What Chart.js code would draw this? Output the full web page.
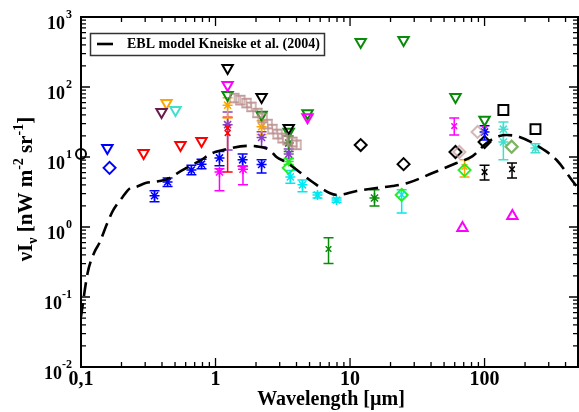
<!DOCTYPE html>
<html><head><meta charset="utf-8">
<script src="https://cdn.jsdelivr.net/npm/chart.js@4/dist/chart.umd.min.js"></script>
<style>html,body{margin:0;padding:0;background:#fff}#wrap{width:579px;height:412px;position:relative}</style>
</head><body><div id="wrap"><canvas id="c" width="579" height="412"></canvas></div>
<script>
// ---- Data (wavelength [um], nuI_nu [nW m^-2 sr^-1], err low, err high) ----
const modelX = [0.1,0.112,0.126,0.137,0.157,0.174,0.204,0.233,0.254,0.302,0.384,0.455,0.522,0.609,0.76,0.95,1.21,1.70,2.02,2.52,2.84,3.4,4.21,5.26,7.04,8.07,11.2,15.7,20.7,26.8,41.1,61.9,81.5,103.5,129,146,182,256,343,451,495];
const modelY = [0.052,0.22,0.44,0.59,1.14,1.75,2.68,3.61,3.73,4.25,4.54,5.0,5.9,6.97,8.77,11.4,13.0,14.4,14.2,12.6,10.0,8.3,6.1,4.40,3.06,2.87,3.27,3.61,3.85,4.25,5.91,8.2,10.3,15.8,19.9,20.6,19.3,13.9,9.06,4.54,3.6];

const blackCircle = [[0.1,11]];
const blueTri = [[0.157,13.4]];
const blueDiamond = [[0.163,7.0]];
const redTri = [[0.292,11.4],[0.549,14.8],[0.787,16.9]];
const maroonTri = [[0.397,44]];
const orangeTri = [[0.432,59]];
const turqTri = [[0.504,47]];
const blackTri = [[1.23,187],[2.2,72],[3.5,26]];
const magentaTri = [[1.23,107],[4.83,37]];
const greenTri = [[1.23,77],[2.2,40],[3.5,23],[4.83,42],[12,440],[25,469],[60.8,72],[100,34]];
const blueStar = [[0.352,2.8,2.3,3.3],[0.44,4.4,3.8,5.0],[0.662,6.5,5.6,7.6],[0.787,7.9,6.8,9.3],[1.07,9.7,7.5,12],[1.59,9.1,7.4,11],[2.2,7.8,5.9,9.1],[100,22.8,17.5,28]];
const magentaStar = [[1.07,6.1,3.3,6.8],[1.6,6.7,4.0,7.4]];
const redCross = [[1.23,22,6.1,37],[1.23,26,null,null]];
const purpleStar = [[1.23,29,12.6,44],[2.2,19,14,23],[3.5,11,9.5,13]];
const orangeStar = [[1.23,55,36,70],[2.2,27,21,33]];
const greenStar = [[3.5,15.8,12,20],[15.2,2.6,2.0,3.4]];
const limeStar = [[3.5,8.6,7.8,9.5]];
const cyanStar = [[3.6,5.2,4.2,6.4],[4.43,4.0,3.2,4.7],[5.73,2.87,2.6,3.1],[7.94,2.43,2.25,2.6]];
const cyanCross = [[24.2,2.9,1.58,3.4]];
const rosySquare = [[1.38,69.7,60,80],[1.53,65.2,56,75],[1.70,59,51,68],[1.85,51.8,45,60],[2.05,42.5,37,49],[2.24,36,31,42],[2.44,29.6,25.5,34],[2.65,25.1,21.5,29],[2.89,21.3,18.3,24.7],[3.15,18.7,16,21.7],[3.43,17.5,15,20.3],[3.73,16.4,14,19],[4.0,14.9,12.8,17.3]];
const blackDiamond = [[12,14.8],[25,7.9],[60.8,11.8],[100,16.4]];
const rosyDiamond = [[65,11.8],[88.7,22.8],[159,14]];
const limeDiamond = [[3.5,7.0],[24.2,2.87],[71,6.5],[159,14]];
const magentaCross = [[59.5,27.7,20.6,36],[100,25,null,null]];
const orangeCross = [[71,7.2,5.2,9.1]];
const blackCross = [[100,6.1,4.7,7.6],[160,6.7,5.0,8.2]];
const greenCross = [[6.92,0.485,0.3,0.7]];
const blackSquare = [[138,47],[239,25]];
const turqStar = [[138,25,9.1,31.6],[138,16.4,null,null],[239,13.4,11.5,15.5]];
const magentaUpTri = [[68.5,0.97],[161,1.44]];

const xTickVals = [0.1,1,10,100];
const xTickText = ['0,1','1','10','100'];
const yTickExp = [-2,-1,0,1,2,3];

const C = {blue:'#0000ff',red:'#ff0000',green:'#0a8a0a',lime:'#22ee22',magenta:'#ff00ff',orange:'#ffa500',turq:'#40e0d0',cyan:'#00e8f0',purple:'#8a3fc9',maroon:'#6a1b4d',rosy:'rgba(188,143,143,0.65)',black:'#000000'};

function ds(arr, style, color, r, opts){
  opts = opts || {};
  return Object.assign({
    type:'scatter',
    data: arr.map(p=>({x:p[0],y:p[1]})),
    errs: arr.map(p=>(p.length>2 && p[2]!=null)?[p[2],p[3]]:null),
    pointStyle: style, pointRadius: r, pointHoverRadius: r,
    borderColor: color, backgroundColor: 'rgba(0,0,0,0)', pointBorderWidth: 2,
    pointRotation: 0, clip: false
  }, opts);
}

const datasets = [
  {type:'line', data: modelX.map((x,i)=>({x:x,y:modelY[i]})), borderColor:'#000', borderWidth:2.6, borderDash:[14,7], pointRadius:0, cubicInterpolationMode:'monotone', fill:false},
  ds(rosySquare,'rect',C.rosy,6,{pointBorderWidth:2}),
  ds(rosyDiamond,'rectRot',C.rosy,6),
  ds(blackCircle,'circle',C.black,5),
  ds(blueTri,'triangle',C.blue,6,{pointRotation:180}),
  ds(blueDiamond,'rectRot',C.blue,6),
  ds(redTri,'triangle',C.red,6,{pointRotation:180}),
  ds(maroonTri,'triangle',C.maroon,6,{pointRotation:180}),
  ds(orangeTri,'triangle',C.orange,6,{pointRotation:180}),
  ds(turqTri,'triangle',C.turq,6,{pointRotation:180}),
  ds(blackTri,'triangle',C.black,6,{pointRotation:180}),
  ds(magentaTri,'triangle',C.magenta,6,{pointRotation:180}),
  ds(greenTri,'triangle',C.green,6,{pointRotation:180}),
  ds(blueStar,'star',C.blue,5,{pointBorderWidth:1.5}),
  ds(magentaStar,'star',C.magenta,5,{pointBorderWidth:1.5}),
  ds(redCross,'crossRot',C.red,4,{pointBorderWidth:1.5}),
  ds(purpleStar,'star',C.purple,5,{pointBorderWidth:1.5}),
  ds(orangeStar,'star',C.orange,5,{pointBorderWidth:1.5}),
  ds(greenStar,'star',C.green,5,{pointBorderWidth:1.5}),
  ds(limeStar,'star',C.lime,5,{pointBorderWidth:1.5}),
  ds(cyanStar,'star',C.cyan,5,{pointBorderWidth:1.5}),
  ds(cyanCross,'crossRot',C.cyan,4,{pointBorderWidth:1.5}),
  ds(blackDiamond,'rectRot',C.black,6),
  ds(limeDiamond,'rectRot',C.lime,6),
  ds(magentaCross,'crossRot',C.magenta,4,{pointBorderWidth:1.5}),
  ds(orangeCross,'crossRot',C.orange,4,{pointBorderWidth:1.5}),
  ds(blackCross,'crossRot',C.black,4,{pointBorderWidth:1.5}),
  ds(greenCross,'crossRot',C.green,4,{pointBorderWidth:1.5}),
  ds(blackSquare,'rect',C.black,7),
  ds(turqStar,'star',C.turq,5,{pointBorderWidth:1.5}),
  ds(magentaUpTri,'triangle',C.magenta,6)
];

const FONT = '"Liberation Serif","Times New Roman",serif';

const decor = {
  id:'decor',
  beforeDatasetsDraw(chart){
    const ctx=chart.ctx, xs=chart.scales.x, ys=chart.scales.y, a=chart.chartArea;
    ctx.save();
    // error bars
    chart.data.datasets.forEach((d,i)=>{
      if(!d.errs) return;
      const meta=chart.getDatasetMeta(i);
      ctx.strokeStyle=d.borderColor; ctx.lineWidth=1.5;
      d.errs.forEach((e,j)=>{
        if(!e) return;
        const px=meta.data[j].x, y1=ys.getPixelForValue(e[0]), y2=ys.getPixelForValue(e[1]);
        ctx.beginPath();
        ctx.moveTo(px,y1);ctx.lineTo(px,y2);
        ctx.moveTo(px-5,y1);ctx.lineTo(px+5,y1);
        ctx.moveTo(px-5,y2);ctx.lineTo(px+5,y2);
        ctx.stroke();
      });
    });
    // frame
    ctx.strokeStyle='#000'; ctx.lineWidth=2;
    ctx.strokeRect(a.left, a.top, a.right-a.left, a.bottom-a.top);
    // ticks
    ctx.lineWidth=1.3;
    ctx.beginPath();
    for(let d=-1; d<=2; d++){
      for(let k=1;k<=9;k++){
        const v=k*Math.pow(10,d); if(v>xs.max) break;
        const px=xs.getPixelForValue(v); const L=(k===1)?9:5;
        ctx.moveTo(px,a.bottom);ctx.lineTo(px,a.bottom-L);
        ctx.moveTo(px,a.top);ctx.lineTo(px,a.top+L);
      }
    }
    for(let d=-2; d<=2; d++){
      for(let k=1;k<=9;k++){
        const v=k*Math.pow(10,d);
        const py=ys.getPixelForValue(v); const L=(k===1)?9:5;
        ctx.moveTo(a.left,py);ctx.lineTo(a.left+L,py);
        ctx.moveTo(a.right,py);ctx.lineTo(a.right-L,py);
      }
    }
    ctx.stroke();
    ctx.restore();
  },
  afterDraw(chart){
    const ctx=chart.ctx, xs=chart.scales.x, ys=chart.scales.y, a=chart.chartArea;
    ctx.save();
    ctx.fillStyle='#000';
    // y tick labels
    yTickExp.forEach(e=>{
      const py=ys.getPixelForValue(Math.pow(10,e));
      const neg=e<0;
      ctx.font='bold 18px '+FONT; ctx.textAlign='right'; ctx.textBaseline='middle';
      ctx.fillText('10', neg?62:65, py+7);
      ctx.font='bold 12px '+FONT; ctx.textAlign='left';
      ctx.fillText(String(e), neg?62:66, py-2);
    });
    // x tick labels
    ctx.font='bold 20px '+FONT; ctx.textAlign='center'; ctx.textBaseline='middle';
    xTickVals.forEach((v,i)=>{ ctx.fillText(xTickText[i], xs.getPixelForValue(v), 380); });
    // x title
    ctx.font='bold 20px '+FONT; ctx.textBaseline='alphabetic';
    ctx.fillText('Wavelength [\u00b5m]', 331, 405);
    // y title (rotated)
    ctx.translate(32,189); ctx.rotate(-Math.PI/2);
    const parts=[['\u03bdI',0,21],['\u03bd',5,14],[' [nW m',0,21],['-2',-9,14],[' sr',0,21],['-1',-9,14],[']',0,21]];
    let tot=0;
    parts.forEach(p=>{ctx.font='bold '+p[2]+'px '+FONT; tot+=ctx.measureText(p[0]).width;});
    let cx=-tot/2; ctx.textAlign='left';
    parts.forEach(p=>{ctx.font='bold '+p[2]+'px '+FONT; ctx.fillText(p[0],cx,p[1]); cx+=ctx.measureText(p[0]).width;});
    ctx.restore();
    // legend
    ctx.save();
    ctx.fillStyle='#fff'; ctx.fillRect(90,33,234,22);
    ctx.strokeStyle='#333'; ctx.lineWidth=1.5; ctx.strokeRect(90.5,33.5,234,22);
    ctx.strokeStyle='#000'; ctx.lineWidth=2.6; ctx.beginPath(); ctx.moveTo(97,44); ctx.lineTo(113,44); ctx.stroke();
    ctx.fillStyle='#000'; ctx.font='bold 14px '+FONT; ctx.textAlign='left'; ctx.textBaseline='middle';
    ctx.fillText('EBL model Kneiske et al. (2004)',127,44.5);
    ctx.restore();
  }
};

new Chart(document.getElementById('c'),{
  data:{datasets:datasets},
  options:{
    responsive:false, animation:false, devicePixelRatio:1,
    layout:{autoPadding:false, padding:{left:81,right:1,top:17,bottom:45}},
    plugins:{legend:{display:false},tooltip:{enabled:false}},
    scales:{
      x:{type:'logarithmic',min:0.1,max:495,display:false},
      y:{type:'logarithmic',min:0.01,max:1000,display:false}
    }
  },
  plugins:[decor]
});
</script></body></html>
